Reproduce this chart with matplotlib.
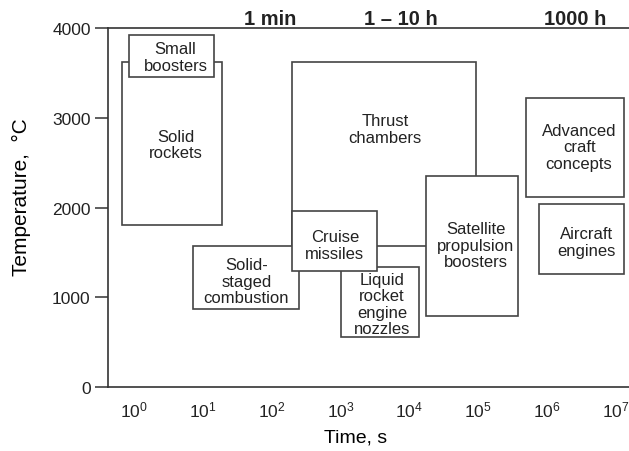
import matplotlib as mpl
import matplotlib.pyplot as plt
from matplotlib.patches import Rectangle

mpl.use("Agg")

# boxes: time range (s) and temperature range (degC), in drawing order
names = [
    "Thrust\nchambers",
    "Satellite\npropulsion\nboosters",
    "Solid-\nstaged\ncombustion",
    "Liquid\nrocket\nengine\nnozzles",
    "Cruise\nmissiles",
    "Solid\nrockets",
    "Small\nboosters",
    "Advanced\ncraft\nconcepts",
    "Aircraft\nengines",
]
t_lo = [200, 17500, 7.2, 1020, 200, 0.67, 0.85, 5.0e5, 7.7e5]
t_hi = [9.4e4, 3.8e5, 250, 13900, 3400, 19, 14.5, 1.32e7, 1.32e7]
temp_lo = [1570, 790, 870, 560, 1290, 1805, 3455, 2115, 1260]
temp_hi = [3620, 2350, 1570, 1340, 1960, 3620, 3920, 3220, 2040]

# where each label sits inside its box
label_t = [4.5e3, 9.3e4, 43, 4.0e3, 830, 4.1, 4.0, 2.95e6, 3.8e6]
label_temp = [2875, 1580, 1180, 925, 1580, 2705, 3675, 2675, 1615]

# duration marks along the top
top_text = ["1 min", "1 – 10 h", "1000 h"]
top_t = [95, 7.6e3, 2.6e6]

plt.rcParams.update({"font.family": ["Liberation Sans", "DejaVu Sans"]})
plt.rcParams.update({"mathtext.default": "regular"})
plt.rcParams.update({"text.color": "#222222"})

ink = "#333333"

fig = plt.figure(figsize=(6.29, 4.52), dpi=100)
ax = fig.add_axes([0.1717, 0.1416, 0.8283, 0.7942])

ax.set_xscale("log")
ax.set_xlim(10 ** -0.378, 10 ** 7.195)
ax.set_ylim(0, 4000)

for i in range(len(names)):
    ax.add_patch(
        Rectangle(
            (t_lo[i], temp_lo[i]),
            t_hi[i] - t_lo[i],
            temp_hi[i] - temp_lo[i],
            facecolor="white",
            edgecolor="#444444",
            linewidth=1.2,
            zorder=2 + i,
        )
    )
    ax.text(
        label_t[i],
        label_temp[i],
        names[i],
        ha="center",
        va="center",
        fontsize=12,
        linespacing=1.12,
        zorder=20,
    )

for txt, t in zip(top_text, top_t):
    ax.text(
        t, 4110, txt, ha="center", va="center",
        fontsize=14.5, fontweight="bold", clip_on=False,
    )

ax.set_xticks([10 ** k for k in range(8)])
ax.minorticks_off()
ax.set_yticks([0, 1000, 2000, 3000, 4000])
ax.tick_params(axis="x", length=0, pad=9, labelsize=12.5, colors="#222222")
ax.tick_params(axis="y", length=9.5, width=1.1, pad=3, labelsize=12.5,
               color=ink, labelcolor="#222222")

for side in ["left", "top", "bottom"]:
    ax.spines[side].set_color(ink)
    ax.spines[side].set_linewidth(1.2)
ax.spines["right"].set_visible(False)

ax.set_xlabel("Time, s", fontsize=14)
ax.xaxis.set_label_coords(0.476, -0.115)
ax.set_ylabel("Temperature,  °C", fontsize=15)
ax.yaxis.set_label_coords(-0.148, 0.532)

plt.savefig("out.png", dpi=100)
plt.close()
